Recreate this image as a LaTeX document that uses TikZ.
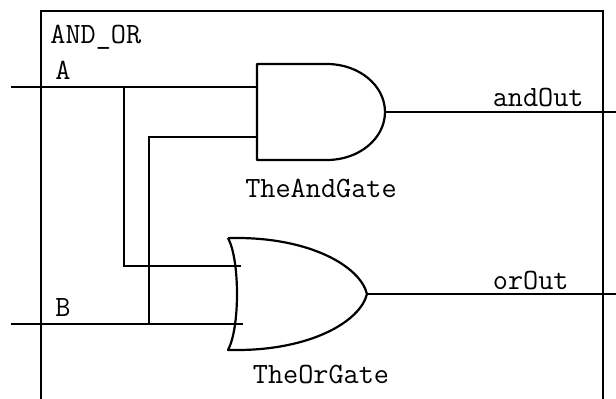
\documentclass[tikz,border=0pt]{standalone}
\usepackage{fontspec}
\usepackage{tikz}
\tikzstyle{wire}=[line width=1.1pt]
\tikzstyle{gateline}=[line width=1.1pt, line join=round]
\tikzstyle{pinlabel}=[inner sep=0, font=\ttfamily\fontsize{14.7}{17}\selectfont]

\begin{document}
\begin{tikzpicture}[x=0.5pt, y=0.5pt]
    \useasboundingbox (0,0) rectangle (616,398);

    % module frame, open at the bottom
    \draw[wire] (41,-5) |- (603,387) -- (603,-5);

    \path
    (11,311) coordinate (inA)
    (11,74) coordinate (inB)
    (124,311) coordinate (tapA)
    (149,74) coordinate (tapB)
    (257,311) coordinate (and1)
    (257,261) coordinate (and2)
    (385,286) coordinate (andY)
    (241,132) coordinate (or1)
    (243,74) coordinate (or2)
    (367,104) coordinate (orY)
    (616,286) coordinate (andOut)
    (616,104) coordinate (orOut);

    \path
    (50,355) node[pinlabel, anchor=base west] (name) {AND\_OR}
    (55,319) node[pinlabel, anchor=base west] (labA) {A}
    (55,82) node[pinlabel, anchor=base west] (labB) {B}
    (321,201) node[pinlabel, anchor=base] (andname) {TheAndGate}
    (321,15) node[pinlabel, anchor=base] (orname) {TheOrGate}
    (584,292) node[pinlabel, anchor=base east] (labAnd) {andOut}
    (569,109) node[pinlabel, anchor=base east] (labOr) {orOut};

    % gates
    \draw[gateline] (257,238) -- (257,334) -- (327,334)
        arc[start angle=90, end angle=-90, x radius=29pt, y radius=24pt] -- cycle;
    \draw[gateline] (228,160) -- (237,160) .. controls (310,160) and (360,132) .. (367,104)
        .. controls (360,76) and (310,48) .. (237,48) -- (228,48)
        .. controls (240,70) and (240,138) .. (228,160);

    % wires
    \draw[wire] (inA) -- (and1);
    \draw[wire] (inB) -- (or2);
    \draw[wire] (tapA) |- (or1);
    \draw[wire] (tapB) |- (and2);
    \draw[wire] (andY) -- (andOut);
    \draw[wire] (orY) -- (orOut);
\end{tikzpicture}
\end{document}
